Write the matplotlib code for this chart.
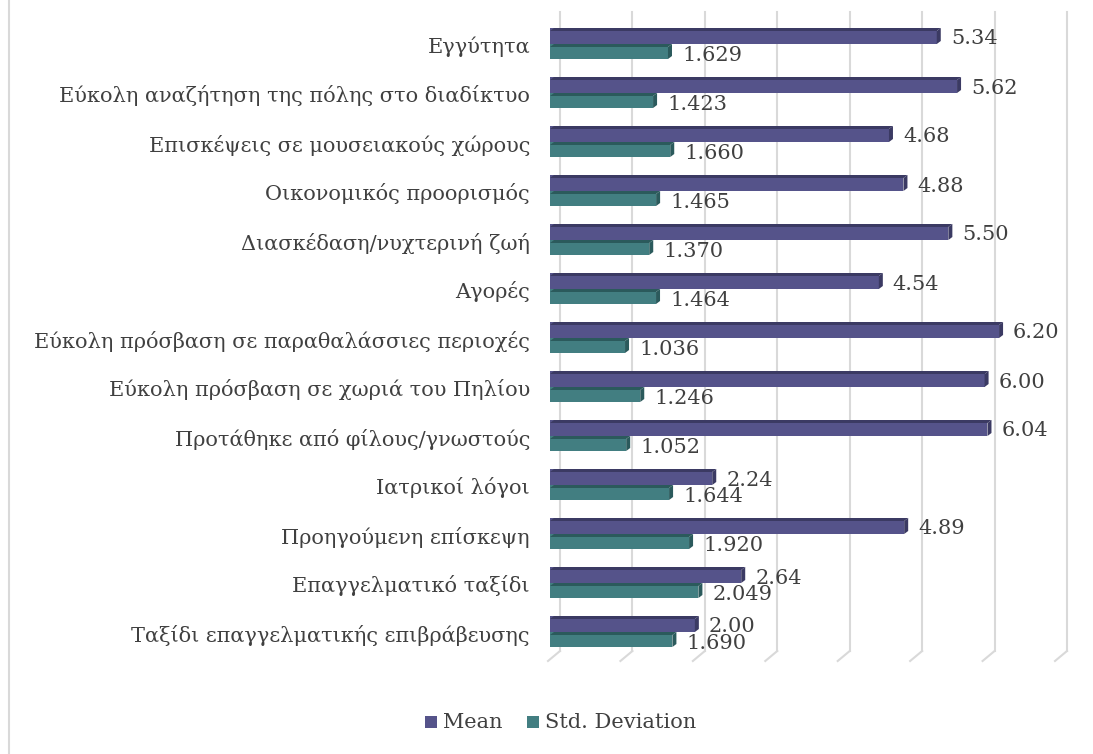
import matplotlib.pyplot as plt
from matplotlib.patches import Polygon, Rectangle
from matplotlib.lines import Line2D

categories = [
    "Εγγύτητα",
    "Εύκολη αναζήτηση της πόλης στο διαδίκτυο",
    "Επισκέψεις σε μουσειακούς χώρους",
    "Οικονομικός προορισμός",
    "Διασκέδαση/νυχτερινή ζωή",
    "Αγορές",
    "Εύκολη πρόσβαση σε παραθαλάσσιες περιοχές",
    "Εύκολη πρόσβαση σε χωριά του Πηλίου",
    "Προτάθηκε από φίλους/γνωστούς",
    "Ιατρικοί λόγοι",
    "Προηγούμενη επίσκεψη",
    "Επαγγελματικό ταξίδι",
    "Ταξίδι επαγγελματικής επιβράβευσης",
]
mean_vals = [5.34, 5.62, 4.68, 4.88, 5.50, 4.54, 6.20, 6.00, 6.04, 2.24, 4.89, 2.64, 2.00]
std_vals = [1.629, 1.423, 1.660, 1.465, 1.370, 1.464, 1.036, 1.246, 1.052, 1.644, 1.920, 2.049, 1.690]
x_ticks = [0, 1, 2, 3, 4, 5, 6, 7]

mean_col, mean_dark = "#55538A", "#3B3A63"
std_col, std_dark = "#427E81", "#2B5A5C"
txt_col = "#404040"
grid_col = "#D9D9D9"
font = "DejaVu Serif"
fs = 15

W, H = 1093, 754
fig = plt.figure(figsize=(W / 100, H / 100), dpi=100)
ax = fig.add_axes([550 / W, (H - 650) / H, (1057 - 550) / W, (650 - 12) / H])
ax.set_xlim(0, 7)
# row i centred at pixel 44 + 49*i
ax.set_ylim((650 - 44) / 49, -(44 - 12) / 49)
ax.axis("off")

fig.canvas.draw()
px = 1.0 / 72.4  # one pixel in x data units
py = 1.0 / 49.0  # one pixel in y data units

# 3D-like gridlines: back wall verticals plus slanted floor segments
for k in x_ticks:
    xb = ax.transData.transform((k, 0))[0] + 10
    xf = xb - 12
    fig.add_artist(Line2D([xb / W, xb / W], [(H - 12) / H, (H - 651) / H],
                          color=grid_col, lw=1.5, zorder=0))
    fig.add_artist(Line2D([xb / W, xf / W], [(H - 651) / H, (H - 661) / H],
                          color=grid_col, lw=1.5, zorder=0))

bh_mean = 16 * py
bh_std = 15 * py
d = 4 * px
dy = 3 * py

def bar3d(y0, y1, v, col, dark):
    ax.add_patch(Rectangle((0, y0), v, y1 - y0, facecolor=col, edgecolor="none", zorder=3))
    # top face
    ax.add_patch(Polygon([(0, y0 + dy), (v, y0 + dy), (v + d, y0), (d, y0)],
                         closed=True, facecolor=dark, edgecolor="none", zorder=4))
    # right face
    ax.add_patch(Polygon([(v, y0 + dy), (v + d, y0), (v + d, y1 - dy), (v, y1)],
                         closed=True, facecolor=dark, edgecolor="none", zorder=4))

for i, (m, s) in enumerate(zip(mean_vals, std_vals)):
    bar3d(i - bh_mean, i, m, mean_col, mean_dark)
    bar3d(i, i + bh_std, s, std_col, std_dark)
    ax.text(m + 14 * px, i - bh_mean / 2 + 3 * py, f"{m:.2f}", fontsize=fs, family=font,
            color=txt_col, va="center", ha="left", zorder=5)
    ax.text(s + 14 * px, i + bh_std / 2 + 4 * py, f"{s:.3f}", fontsize=fs, family=font,
            color=txt_col, va="center", ha="left", zorder=5)
    ax.text(-20 * px, i + 3 * py, categories[i], fontsize=fs, family=font,
            color=txt_col, va="center", ha="right", clip_on=False)

# legend
ly = (H - 722) / H
fig.add_artist(Rectangle((425 / W, ly - 6 / H), 12 / W, 12 / H,
                         facecolor=mean_col, edgecolor="none", transform=fig.transFigure))
fig.text(443 / W, ly, "Mean", fontsize=fs, family=font, color=txt_col, va="center")
fig.add_artist(Rectangle((527 / W, ly - 6 / H), 12 / W, 12 / H,
                         facecolor=std_col, edgecolor="none", transform=fig.transFigure))
fig.text(545 / W, ly, "Std. Deviation", fontsize=fs, family=font, color=txt_col, va="center")

# chart frame (left edge visible)
fig.add_artist(Line2D([8.5 / W, 8.5 / W], [0, 1], color=grid_col, lw=1.5))

fig.savefig("out.png", dpi=100)
